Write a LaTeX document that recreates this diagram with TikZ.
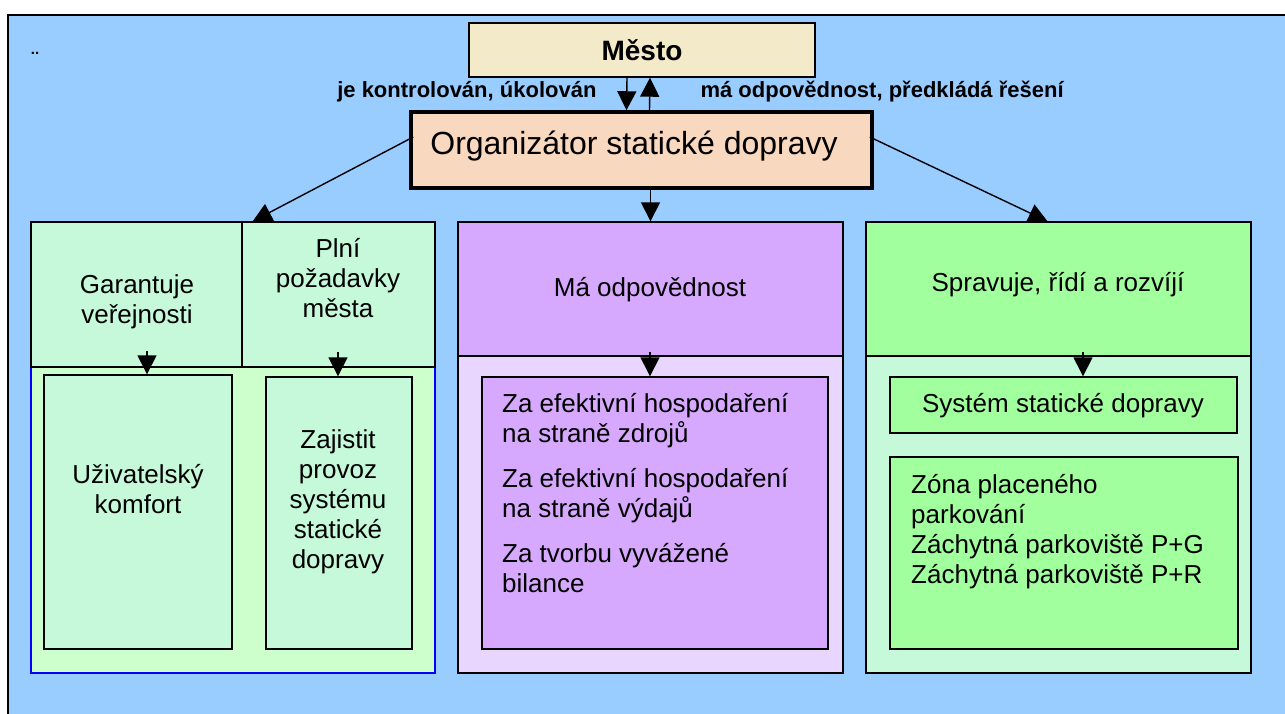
\documentclass[tikz,border=0pt]{standalone}
\usepackage{fontspec}
\setmainfont{Liberation Sans}
\usetikzlibrary{arrows.meta}
\definecolor{skyblue}{HTML}{99CCFF}
\definecolor{sand}{HTML}{F2EAC8}
\definecolor{peach}{HTML}{F9D8C0}
\definecolor{mint}{HTML}{C6F9DA}
\definecolor{palegreen}{HTML}{CCFFCC}
\definecolor{lime}{HTML}{A2FF9E}
\definecolor{lilac}{HTML}{D6A9FE}
\definecolor{palelilac}{HTML}{E9D6FE}
\begin{document}
\begin{tikzpicture}[x=1pt,y=-1pt,
  box/.style={draw,line width=1.4pt,inner sep=0pt},
  body/.style={font=\fontsize{26}{30}\selectfont},
  tag/.style={font=\fontsize{22}{26}\selectfont\bfseries},
  arr/.style={line width=1.4pt,-{Triangle[length=19pt,width=19pt]}}]
\useasboundingbox (0,0) rectangle (1285,713);
\clip (0,0) rectangle (1285,713);
\fill[white] (0,0) rectangle (1285,713);
\draw[fill=skyblue,line width=1.4pt] (8,15) rectangle (1300,730);
\node[font=\fontsize{15}{17}\selectfont\bfseries] (dots) at (35,53) {..};

\node[box,fill=sand,minimum width=346pt,minimum height=54pt,font=\fontsize{28}{32}\selectfont\bfseries] (mesto) at (642,50) {Město};
\node[box,fill=peach,line width=3.5pt,minimum width=461pt,minimum height=76pt] (org) at (641.5,150) {};
\node[font=\fontsize{32}{36}\selectfont] (orgtxt) at (634,146) {Organizátor statické dopravy};
\node[tag,anchor=base east] (ctrl) at (600,97) {je kontrolován, úkolován};
\node[tag,anchor=base west] (resp) at (697,97) {má odpovědnost, předkládá řešení};

\node[box,draw=blue,fill=palegreen,minimum width=404pt,minimum height=306pt] (lpanel) at (233,520) {};
\node[box,fill=mint,minimum width=211pt,minimum height=145pt] (cellA) at (136.5,294.5) {};
\node[box,fill=mint,minimum width=193pt,minimum height=145pt] (cellB) at (338.5,294.5) {};
\node[box,fill=mint,minimum width=188pt,minimum height=274pt] (innerA) at (138,512) {};
\node[box,fill=mint,minimum width=146pt,minimum height=272pt] (innerB) at (339,513) {};

\node[box,fill=palelilac,minimum width=385pt,minimum height=317pt] (midlow) at (650.5,514.5) {};
\node[box,fill=lilac,minimum width=385pt,minimum height=134pt] (midtop) at (650.5,289) {};
\node[box,fill=lilac,minimum width=346pt,minimum height=272pt] (midin) at (655,513) {};

\node[box,fill=mint,minimum width=385pt,minimum height=317pt] (rlow) at (1058.5,514.5) {};
\node[box,fill=lime,minimum width=385pt,minimum height=134pt] (rtop) at (1058.5,289) {};
\node[box,fill=lime,minimum width=347pt,minimum height=56pt] (rin1) at (1063.5,405) {};
\node[box,fill=lime,minimum width=348pt,minimum height=192pt] (rin2) at (1064,553) {};

\node[body,align=center] (guar) at (137,302) {Garantuje\\veřejnosti};
\node[body,align=center] (fulfil) at (338,278) {Plní\\požadavky\\města};
\node[body,align=center] (comfort) at (138,489) {Uživatelský\\komfort};
\node[body,align=center] (ensure) at (338,502) {Zajistit\\provoz\\systému\\statické\\dopravy};
\node[body,anchor=base] (duty) at (650,296) {Má odpovědnost};
\node[body,anchor=base] (manage) at (1058,291) {Spravuje, řídí a rozvíjí};
\node[body,anchor=base] (sysname) at (1063,412) {Systém statické dopravy};
\node[body,align=left,anchor=north west,inner sep=0pt] (dutylist) at (502,393) {Za efektivní hospodaření\\na straně zdrojů\\[15pt]Za efektivní hospodaření\\na straně výdajů\\[15pt]Za tvorbu vyvážené\\bilance};
\node[body,align=left,anchor=north west,inner sep=0pt] (zones) at (911,474) {Zóna placeného\\parkování\\Záchytná parkoviště P+G\\Záchytná parkoviště P+R};

\draw[arr] ([xshift=-15pt]mesto.south) -- ([xshift=-15pt]org.north);
\draw[arr] ([xshift=8pt]org.north) -- ([xshift=8pt]mesto.south);
\draw[arr] ([shift={(4,-13)}]org.west) -- ([xshift=10pt]cellA.north east);
\draw[arr] ([shift={(-4,-13)}]org.east) -- ([xshift=-11pt]rtop.north);
\draw[arr] (org.south -| midtop.north) -- (midtop.north);
\draw[arr] ([shift={(9,-23)}]innerA.north) -- ([xshift=9pt]innerA.north);
\draw[arr] ([shift={(-1,-24)}]innerB.north) -- ([xshift=-1pt]innerB.north);
\draw[arr] ([shift={(-5,-24)}]midin.north) -- ([xshift=-5pt]midin.north);
\draw[arr] ([shift={(19.5,-24)}]rin1.north) -- ([xshift=19.5pt]rin1.north);
\end{tikzpicture}
\end{document}
